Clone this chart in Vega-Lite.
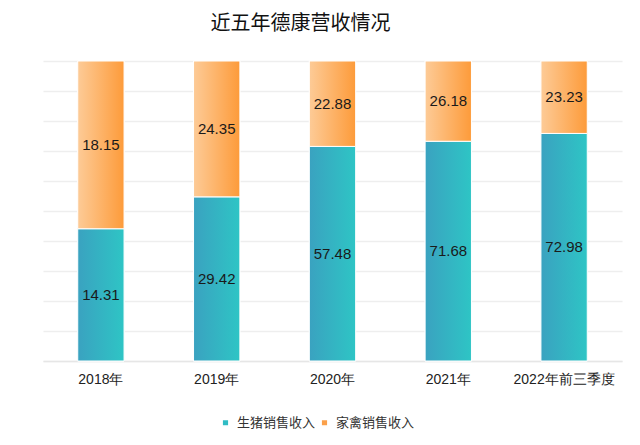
{
  "$schema": "https://vega.github.io/schema/vega-lite/v6.json",
  "width": 579,
  "height": 300,
  "autosize": {"type": "none"},
  "padding": {"left": 43, "top": 61, "right": 18, "bottom": 84},
  "background": "white",
  "title": {
    "text": "近五年德康营收情况",
    "font": "Noto Sans CJK SC",
    "fontSize": 20,
    "fontWeight": "normal",
    "color": "#111111",
    "anchor": "middle",
    "dx": -32,
    "offset": 27
  },
  "data": {
    "values": [
      {"year": "2018年", "series": "生猪销售收入", "order": 1, "value": 14.31},
      {"year": "2018年", "series": "家禽销售收入", "order": 2, "value": 18.15},
      {"year": "2019年", "series": "生猪销售收入", "order": 1, "value": 29.42},
      {"year": "2019年", "series": "家禽销售收入", "order": 2, "value": 24.35},
      {"year": "2020年", "series": "生猪销售收入", "order": 1, "value": 57.48},
      {"year": "2020年", "series": "家禽销售收入", "order": 2, "value": 22.88},
      {"year": "2021年", "series": "生猪销售收入", "order": 1, "value": 71.68},
      {"year": "2021年", "series": "家禽销售收入", "order": 2, "value": 26.18},
      {"year": "2022年前三季度", "series": "生猪销售收入", "order": 1, "value": 72.98},
      {"year": "2022年前三季度", "series": "家禽销售收入", "order": 2, "value": 23.23}
    ]
  },
  "transform": [
    {"stack": "value", "groupby": ["year"], "as": ["v0", "v1"], "offset": "normalize", "sort": [{"field": "order", "order": "ascending"}]},
    {"calculate": "(datum.v0 + datum.v1) / 2", "as": "mid"}
  ],
  "encoding": {
    "x": {
      "field": "year",
      "type": "nominal",
      "sort": null,
      "scale": {"paddingInner": 0.6, "paddingOuter": 0.3},
      "axis": {
        "title": null,
        "labelAngle": 0,
        "labelFont": "Liberation Sans",
        "labelFontSize": 14,
        "labelColor": "#222222",
        "labelPadding": 11,
        "ticks": false,
        "domainColor": "#e6e6e6",
        "domainWidth": 1.5
      }
    }
  },
  "layer": [
    {
      "mark": {"type": "bar", "stroke": "white", "strokeWidth": 1},
      "encoding": {
        "y": {
          "field": "v0",
          "type": "quantitative",
          "scale": {"domain": [0, 1]},
          "axis": {
            "title": null,
            "labels": false,
            "ticks": false,
            "domain": false,
            "tickCount": 10,
            "gridColor": "#eeeeee",
            "gridWidth": 1.5
          }
        },
        "y2": {"field": "v1"},
        "color": {
          "field": "series",
          "type": "nominal",
          "scale": {"domain": ["生猪销售收入", "家禽销售收入"], "range": ["#2fbcc4", "#fba04a"]},
          "legend": {
            "title": null,
            "orient": "none",
            "legendX": 176,
            "legendY": 355,
            "direction": "horizontal",
            "symbolType": "square",
            "symbolSize": 45,
            "labelFont": "Noto Sans CJK SC",
            "labelFontSize": 13,
            "labelColor": "#333333",
            "columnPadding": 2,
            "symbolOffset": 0,
            "labelOffset": 5
          }
        }
      }
    },
    {
      "transform": [{"filter": "datum.series === '生猪销售收入'"}],
      "mark": {
        "type": "bar",
        "stroke": "white",
        "strokeWidth": 1,
        "fill": {
          "gradient": "linear", "x1": 0, "x2": 1, "y1": 0, "y2": 0,
          "stops": [{"offset": 0, "color": "#3aa2c0"}, {"offset": 1, "color": "#2ec5c5"}]
        }
      },
      "encoding": {
        "y": {"field": "v0", "type": "quantitative"},
        "y2": {"field": "v1"}
      }
    },
    {
      "transform": [{"filter": "datum.series === '家禽销售收入'"}],
      "mark": {
        "type": "bar",
        "stroke": "white",
        "strokeWidth": 1,
        "fill": {
          "gradient": "linear", "x1": 0, "x2": 1, "y1": 0, "y2": 0,
          "stops": [{"offset": 0, "color": "#fdcb97"}, {"offset": 1, "color": "#fd9b3a"}]
        }
      },
      "encoding": {
        "y": {"field": "v0", "type": "quantitative"},
        "y2": {"field": "v1"}
      }
    },
    {
      "mark": {"type": "text", "font": "Liberation Sans", "fontSize": 15, "color": "#1a1a1a", "baseline": "middle"},
      "encoding": {
        "y": {"field": "mid", "type": "quantitative"},
        "text": {"field": "value", "type": "quantitative", "format": ".2f"}
      }
    }
  ],
  "config": {"view": {"stroke": null}}
}
